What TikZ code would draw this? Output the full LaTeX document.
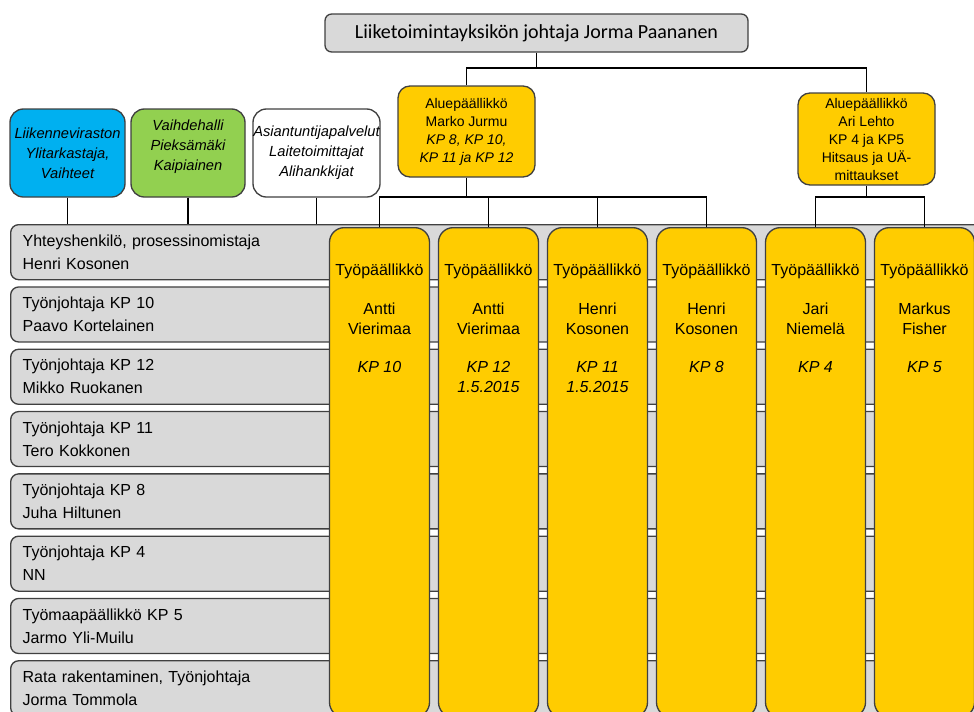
\documentclass[tikz,border=0pt]{standalone}
\usepackage{fontspec}
\setmainfont{Liberation Sans}
\newfontfamily\calibri{Carlito}
\usetikzlibrary{positioning}
\definecolor{kelta}{HTML}{FFCC00}
\definecolor{harmaa}{HTML}{D9D9D9}
\definecolor{sininen}{HTML}{00B0F0}
\definecolor{vihrea}{HTML}{92D050}
\definecolor{reuna}{HTML}{404040}
\begin{document}
\begin{tikzpicture}[x=0.75pt, y=-0.75pt,
	laatikko/.style={draw=reuna, line width=1pt, rounded corners=#1},
	laatikko/.default=6pt,
	rivi/.style={laatikko=6pt, fill=harmaa, anchor=north west, minimum width=742.5pt, minimum height=41.25pt, text width=724.5pt, inner xsep=9pt, align=left, font=\fontsize{12}{17.25}\selectfont},
	sarake/.style={laatikko=11pt, fill=kelta, anchor=north, minimum width=75pt, minimum height=367pt},
	saraketeksti/.style={anchor=north, inner sep=0pt, align=center, font=\fontsize{12}{15}\selectfont},
	yksikko/.style={laatikko=10pt, minimum width=#1, minimum height=66pt, inner xsep=0pt, align=center, font=\fontsize{11}{15}\selectfont\itshape},
	alue/.style={laatikko=9pt, fill=kelta, minimum width=102.75pt, inner ysep=1pt, align=center, font=\fontsize{10.5}{13.5}\selectfont},
	viiva/.style={draw=black, line width=0.8pt}]
	\useasboundingbox (0,0) rectangle (974,711);
	\clip (0,0) rectangle (974,711);
	
	% Johtaja
	\node[laatikko=5pt, fill=harmaa, minimum width=317.25pt, minimum height=28.5pt, font=\calibri\fontsize{15}{17}\selectfont] (johtaja) at (536.5,33) {Liiketoimintayksikön johtaja Jorma Paananen};
	
	% Aluepäälliköt
	\node[alue, minimum height=68.25pt] (alue1) at (466.5,131.5) {Aluepäällikkö\\Marko Jurmu\\\itshape KP 8, KP 10,\\\itshape KP 11 ja KP 12};
	\node[alue, minimum height=69pt] (alue2) at (866.5,139) {Aluepäällikkö\\Ari Lehto\\KP 4 ja KP5\\Hitsaus ja UÄ-\\mittaukset};
	
	% Ulkoiset tahot
	\node[yksikko=86.25pt, fill=sininen] (liikenne) at (67.5,153) {Liikenneviraston\\Ylitarkastaja,\\Vaihteet};
	\node[yksikko=85.5pt, fill=vihrea, text depth=12pt] (vaihde) at (188,153) {Vaihdehalli\\Pieksämäki\\Kaipiainen};
	\node[yksikko=95.25pt, fill=white] (asiantuntija) at (316.5,153) {Asiantuntijapalvelut\\Laitetoimittajat\\Alihankkijat};
	
	% Rivit
	\foreach \rteksti [count=\i from 0] in {
		{Yhteyshenkilö, prosessinomistaja\\Henri Kosonen},
		{Työnjohtaja KP 10\\Paavo Kortelainen},
		{Työnjohtaja KP 12\\Mikko Ruokanen},
		{Työnjohtaja KP 11\\Tero Kokkonen},
		{Työnjohtaja KP 8\\Juha Hiltunen},
		{Työnjohtaja KP 4\\NN},
		{Työmaapäällikkö KP 5\\Jarmo Yli-Muilu},
		{Rata rakentaminen, Työnjohtaja\\Jorma Tommola}}
		\node[rivi] (r\i) at (10,{224+62.3*\i}) {\rteksti};
	
	% Työpäälliköt
	\foreach \nimi/\kp [count=\i from 0] in {
		{Antti\\Vierimaa}/{\itshape KP 10},
		{Antti\\Vierimaa}/{\itshape KP 12\\\itshape 1.5.2015},
		{Henri\\Kosonen}/{\itshape KP 11\\\itshape 1.5.2015},
		{Henri\\Kosonen}/{\itshape KP 8},
		{Jari\\Niemelä}/{\itshape KP 4},
		{Markus\\Fisher}/{\itshape KP 5}}{
		\node[sarake] (s\i) at ({379.5+109*\i},227) {};
		\node[saraketeksti] (t\i) at ({379.5+109*\i},264) {Työpäällikkö\\[14pt]\nimi\\[13.5pt]\kp};
	}
	
	% Viivat
	\coordinate (y1) at (0,68);
	\coordinate (y2) at (0,197);
	\draw[viiva] (johtaja.south) -- (y1 -| johtaja.south);
	\draw[viiva] (alue1.north) |- (y1 -| johtaja.south) -| (alue2.north);
	\draw[viiva] (alue1.south) -- (y2 -| alue1.south);
	\draw[viiva] (s0.north) |- (y2 -| alue1.south) -| (s3.north);
	\draw[viiva] (s1.north) -- (s1.north |- y2);
	\draw[viiva] (s2.north) -- (s2.north |- y2);
	\draw[viiva] (alue2.south) -- (y2 -| alue2.south);
	\draw[viiva] (s4.north) |- (y2 -| alue2.south) -| (s5.north);
	\foreach \b in {liikenne, vaihde, asiantuntija}
		\draw[viiva] (\b.south) -- (\b.south |- r0.north);
\end{tikzpicture}
\end{document}
